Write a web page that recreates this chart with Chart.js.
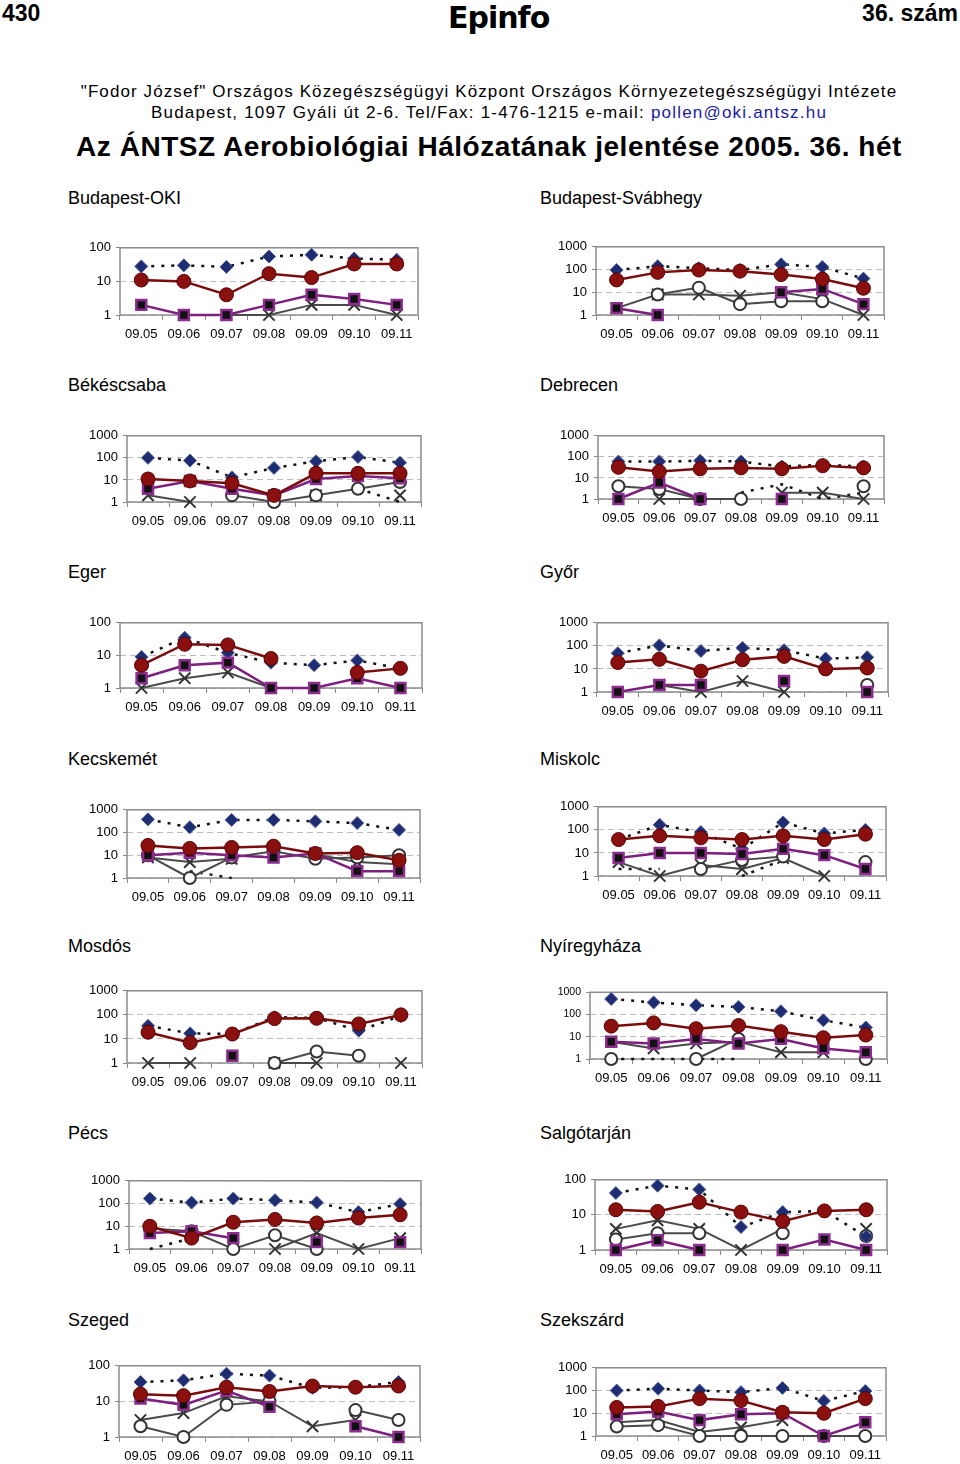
<!DOCTYPE html>
<html>
<head>
<meta charset="utf-8">
<script src="https://cdn.jsdelivr.net/npm/chart.js@4.4.1/dist/chart.umd.min.js"></script>
<style>
  body { margin: 0; background: #fff; width: 960px; height: 1464px; position: relative; overflow: hidden;
         font-family: "Liberation Sans", Arial, sans-serif; color: #000; }
  .t { position: absolute; white-space: nowrap; line-height: 1; }
  canvas { position: absolute; }
</style>
</head>
<body>
<div class="t" style="left:2px;top:2px;font-size:23px;font-weight:bold;">430</div>
<div class="t" style="left:448px;top:3px;font-size:30px;font-weight:900;font-family:'DejaVu Sans';letter-spacing:-1px;">Epinfo</div>
<div class="t" style="right:2px;top:2px;font-size:23px;font-weight:bold;">36. szám</div>
<div class="t" style="left:0;width:978px;text-align:center;top:83px;font-size:17px;letter-spacing:1.1px;">"Fodor József" Országos Közegészségügyi Központ Országos Környezetegészségügyi Intézete</div>
<div class="t" style="left:0;width:978px;text-align:center;top:104px;font-size:17px;letter-spacing:1.2px;">Budapest, 1097 Gyáli út 2-6. Tel/Fax: 1-476-1215 e-mail: <span style="color:#1a1aa6">pollen@oki.antsz.hu</span></div>
<div class="t" style="left:0;width:978px;text-align:center;top:133px;font-size:28px;font-weight:bold;letter-spacing:0.55px;">Az ÁNTSZ Aerobiológiai Hálózatának jelentése 2005. 36. hét</div>

<script>
// categories
const days = ['09.05', '09.06', '09.07', '09.08', '09.09', '09.10', '09.11'];
const stations = ['Budapest-OKI', 'Budapest-Svábhegy', 'Békéscsaba', 'Debrecen', 'Eger', 'Győr',
                  'Kecskemét', 'Miskolc', 'Mosdós', 'Nyíregyháza', 'Pécs', 'Salgótarján', 'Szeged', 'Szekszárd'];
// top of the log axis for each station
const yMax = [100, 1000, 1000, 1000, 100, 1000, 1000, 1000, 1000, 1000, 1000, 100, 100, 1000];

// series values, one row per station (null = no value)
const diamond = [
  [28, 30, 27, 55, 62, 48, 44],
  [95, 140, 115, 95, 170, 130, 40],
  [100, 75, 13, 35, 70, 110, 60],
  [60, 60, 65, 60, 35, 42, 35],
  [9, 35, 12, 6, 5, 7, 4],
  [48, 105, 60, 82, 65, 28, 32],
  [380, 170, 360, 360, 310, 260, 130],
  [38, 165, 80, 15, 210, 70, 100],
  [35, 17, 16, 80, 75, 22, 90],
  [500, 350, 260, 220, 140, 55, 26],
  [165, 110, 165, 140, 110, 42, 95],
  [42, 68, 53, 4.5, 12, 13, 2.4],
  [35, 39, 60, 53, 24, 25, 35],
  [100, 120, 100, 85, 130, 35, 95]
];
const redCircle = [
  [11, 10, 4, 17, 13, 33, 33],
  [35, 75, 95, 85, 60, 38, 15],
  [11, 9, 7, 2, 20, 20, 20],
  [32, 20, 27, 30, 27, 38, 30],
  [5, 22, 21, 8, null, 3, 4],
  [19, 26, 8, 25, 35, 10, 11],
  [27, 20, 22, 25, 12, 13, 6],
  [38, 55, 45, 38, 55, 38, 65],
  [19, 7, 16, 70, 72, 42, 100],
  [30, 42, 23, 32, 17, 9, 12],
  [10, 3, 15, 20, 14, 23, 32],
  [14, 12.5, 23, 12, 6.6, 13, 14],
  [16, 14.5, 25, 19, 27, 25, 27],
  [18, 20, 44, 36, 11, 10, 44]
];
const square = [
  [2, 1, 1, 2, 4, 3, 2],
  [2, 1, null, null, 10, 14, 3],
  [4, 9, 4, 2, 11, 15, 12],
  [1, 6, 1, null, 1, null, null],
  [2, 5, 6, 1, 1, 2, 1],
  [1, 2, 2, null, 3, null, 1],
  [10, 13, 10, 8, 12, 2, 2],
  [6, 10, 10, 9, 15, 8, 2],
  [null, null, 2, null, null, null, null],
  [6, 5, 8, 5, 8, 3, 2],
  [5, 6, 3, null, 2, null, 2],
  [1, 1.9, 1, null, 1, 2, 1],
  [12, 8, 20, 7, null, 2, 1],
  [9, 12, 5, 9, 10, 1, 4]
];
const cross = [
  [null, null, 1, 1, 2, 2, 1],
  [2, 8, 8, 7, 10, 5, 1],
  [2, 1, null, null, 2, null, 2],
  [null, 1, 1, null, 2, 2, 1],
  [1, 2, 3, 1, null, null, null],
  [null, 2, 1, 3, 1, null, null],
  [8, 5, 7, null, 11, 5, 4],
  [4, 1, 3, 2, 6, 1, null],
  [1, 1, null, 1, 1, null, 1],
  [6, 3, 5, 6, 2, 2, null],
  [null, null, null, 1, 5, 1, 3],
  [4, 7, 4, 1, 4, null, 4],
  [3, 4.7, 14, 10, 2, 3, null],
  [4, 5, 1.5, 2.4, 5, null, null]
];
const openCircle = [
  [null, null, null, null, null, null, null],
  [null, 8, 16, 3, 4, 4, null],
  [null, null, 2, 1, 2, 4, 8],
  [4, 3, 1, 1, null, null, 4],
  [null, null, null, null, null, null, null],
  [null, null, null, null, null, null, 2],
  [10, 1, 8, 15, 7, 8, 10],
  [null, null, 2, 5, 7, null, 4],
  [null, null, null, 1, 3, 2, null],
  [1, null, 1, 8, null, null, 1],
  [8, 6, 1, 4, 1, null, null],
  [2, 3, 3, null, 3, null, 2.5],
  [2, 1, 8, 10, null, 5.7, 3],
  [2.6, 3, 1, 1, 1, 1, 1]
];
const dotted = [
  [null, null, null, null, null, null, null],
  [null, null, null, null, null, null, null],
  [null, null, null, null, null, 4, 1],
  [null, null, null, 2, 5, 1, 2],
  [null, null, null, null, null, null, null],
  [null, null, null, null, null, null, null],
  [null, 2, 1, null, null, null, null],
  [2, 2, null, 1, 5, null, null],
  [null, null, null, null, null, null, null],
  [1, 1, 1, 1, null, null, null],
  [1, 3, null, null, null, null, null],
  [null, null, null, null, null, null, null],
  [null, null, null, null, null, null, null],
  [null, null, null, null, null, null, null]
];

// page layout: plot area [left, top, right, bottom] and title row centres
const plotBoxes = [
  [120, 245, 418, 315], [596, 244, 884, 315],
  [127, 433, 421, 502], [598, 433, 884, 499],
  [120, 620, 422, 688], [597, 620, 888, 692],
  [127, 807, 420, 878], [598, 804, 886, 876],
  [127, 988, 422, 1063], [590, 991, 887, 1059],
  [129, 1178, 421, 1249], [595, 1177, 887, 1250],
  [119, 1363, 420, 1437], [596, 1365, 886, 1436]
];
const titleRows = [197, 384, 571, 758, 945, 1132, 1319];

const FONT = '"Liberation Sans", Arial, sans-serif';
const AXW = 60, PADT = 10, PADR = 14, AXH = 32;

const seriesStyle = {
  red: { borderColor: '#7a0c0c', borderWidth: 2.5, pointStyle: 'circle', pointRadius: 7,
         pointBackgroundColor: '#8a1010', pointBorderColor: '#5a0000', pointBorderWidth: 1 },
  square: { borderColor: '#7e1f80', borderWidth: 2.5, pointStyle: 'rect', pointRadius: 7,
            pointBackgroundColor: '#111', pointBorderColor: '#8b2c8e', pointBorderWidth: 2.5 },
  diamond: { borderColor: '#111', borderWidth: 2.5, borderDash: [3, 7], pointStyle: 'rectRot', pointRadius: 6.5,
             pointBackgroundColor: '#1e2c72', pointBorderColor: '#4f5c9c', pointBorderWidth: 1 },
  circle: { borderColor: '#4a4a4a', borderWidth: 2, pointStyle: 'circle', pointRadius: 6,
            pointBackgroundColor: '#fff', pointBorderColor: '#333', pointBorderWidth: 2 },
  cross: { borderColor: '#4a4a4a', borderWidth: 2, pointStyle: 'crossRot', pointRadius: 8,
           pointBorderColor: '#333', pointBorderWidth: 2 },
  dotted: { borderColor: '#111', borderWidth: 2.5, borderDash: [3, 7], pointRadius: 0 }
};

const boxBorder = {
  id: 'boxBorder',
  beforeDatasetsDraw(chart) {
    const a = chart.chartArea, c = chart.ctx;
    c.save();
    c.strokeStyle = '#8c8c8c';
    c.lineWidth = 1.5;
    c.strokeRect(a.left, a.top, a.right - a.left, a.bottom - a.top);
    c.restore();
  }
};

function makeSet(data, style) {
  return Object.assign({ data: data, spanGaps: false, clip: false, tension: 0, fill: false }, seriesStyle[style]);
}

stations.forEach(function (name, i) {
  const [l, t, r, b] = plotBoxes[i];
  const right = i % 2 === 1;

  const title = document.createElement('div');
  title.className = 't';
  title.textContent = name;
  title.style.left = (right ? 540 : 68) + 'px';
  title.style.top = (titleRows[Math.floor(i / 2)] - 8) + 'px';
  title.style.fontSize = '18px';
  document.body.appendChild(title);

  const cv = document.createElement('canvas');
  cv.width = (r - l) + AXW + PADR;
  cv.height = (b - t) + PADT + AXH;
  cv.style.left = (l - AXW) + 'px';
  cv.style.top = (t - PADT) + 'px';
  document.body.appendChild(cv);

  const sets = [
    makeSet(redCircle[i], 'red'),
    makeSet(square[i], 'square'),
    makeSet(diamond[i], 'diamond'),
    makeSet(openCircle[i], 'circle'),
    makeSet(cross[i], 'cross'),
    makeSet(dotted[i], 'dotted')
  ];

  const ySize = i === 9 ? 10.5 : 13;
  const max = yMax[i];

  new Chart(cv, {
    type: 'line',
    data: { labels: days, datasets: sets },
    options: {
      responsive: false,
      animation: false,
      layout: { padding: { top: PADT, right: PADR, left: 0, bottom: 0 } },
      plugins: { legend: { display: false }, tooltip: { enabled: false } },
      scales: {
        x: {
          offset: true,
          grid: { offset: true, drawOnChartArea: false, tickLength: 5, color: '#888' },
          border: { display: false },
          ticks: { color: '#000', font: { size: 13, family: FONT }, padding: 7, maxRotation: 0, autoSkip: false },
          afterFit: function (s) { s.height = AXH; }
        },
        y: {
          type: 'logarithmic',
          min: 1,
          max: max,
          afterBuildTicks: function (s) {
            s.ticks = [1, 10, 100, 1000].filter(v => v <= max).map(v => ({ value: v }));
          },
          ticks: { color: '#000', font: { size: ySize, family: FONT }, padding: 5,
                   callback: function (v) { return String(v); } },
          grid: { color: '#bdbdbd', lineWidth: 1, tickLength: 4, tickColor: '#888', tickBorderDash: [] },
          border: { display: false, dash: [6, 4] },
          afterFit: function (s) { s.width = AXW; }
        }
      }
    },
    plugins: [boxBorder]
  });
});
</script>
</body>
</html>
